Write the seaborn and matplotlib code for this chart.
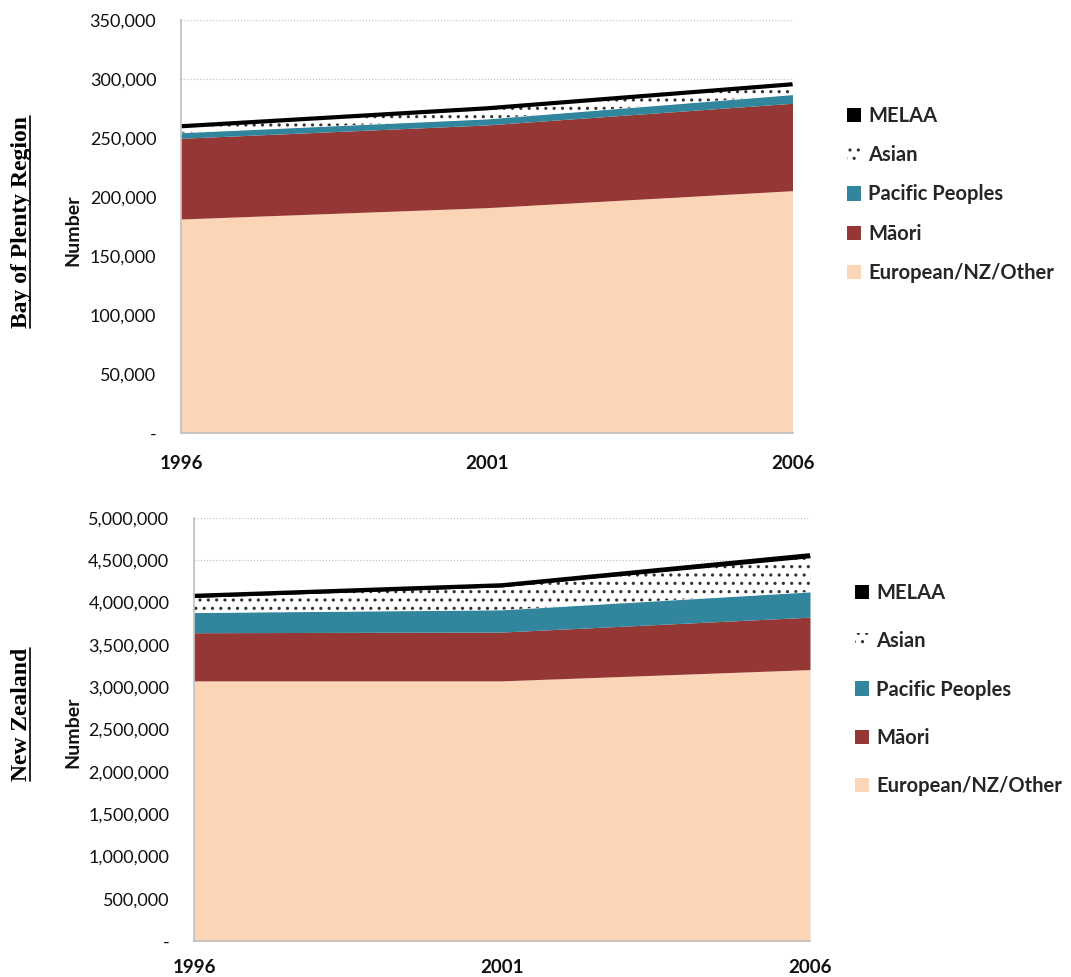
import numpy as np
import pandas as pd
import matplotlib
matplotlib.use("Agg")
import matplotlib.pyplot as plt
from matplotlib.patches import Patch
from matplotlib.lines import Line2D
from matplotlib.ticker import FuncFormatter, MultipleLocator
from matplotlib.font_manager import FontProperties
import seaborn as sns

# ---- data -------------------------------------------------------------
years = [1996, 2001, 2006]
groups = ["European/NZ/Other", "Māori", "Pacific Peoples", "Asian", "MELAA"]

bop_european = [181600, 191200, 205600]
bop_maori = [68400, 70100, 74100]
bop_pacific = [4700, 5100, 7300]
bop_asian = [5000, 8400, 8000]
bop_melaa = [500, 600, 800]

nz_european = [3075000, 3075000, 3208000]
nz_maori = [569000, 577000, 620000]
nz_pacific = [238000, 262000, 298000]
nz_asian = [178000, 271000, 404000]
nz_melaa = [20000, 20000, 30000]

region_titles = ["Bay of Plenty Region", "New Zealand"]


def long_table(series):
    rows = []
    for g, vals in zip(groups, series):
        for y, v in zip(years, vals):
            rows.append({"year": y, "group": g, "count": v})
    return pd.DataFrame(rows)


bop = long_table([bop_european, bop_maori, bop_pacific, bop_asian, bop_melaa])
nz = long_table([nz_european, nz_maori, nz_pacific, nz_asian, nz_melaa])

# ---- styling ----------------------------------------------------------
sns.set_theme(style="white")
plt.rcParams["font.family"] = ["Lato", "DejaVu Sans"]
plt.rcParams["hatch.linewidth"] = 1.1

styles = {
    "European/NZ/Other": dict(fc="#FBD5B5", ec="#FBD5B5", hatch=None),
    "Māori": dict(fc="#953735", ec="#953735", hatch=None),
    "Pacific Peoples": dict(fc="#31859C", ec="#31859C", hatch=None),
    "Asian": dict(fc="white", ec="#333333", hatch=".."),
    "MELAA": dict(fc="black", ec="black", hatch=None),
}

W, H = 1071, 977
fig = plt.figure(figsize=(W / 100, H / 100), dpi=100)


def fx(px):
    return px / W


def fy(py):
    return 1 - py / H


def axes_at(left, right, top, bottom):
    return fig.add_axes([fx(left), fy(bottom), fx(right) - fx(left), fy(top) - fy(bottom)])


ax_top = axes_at(181, 792.5, 20.3, 433.3)
ax_bot = axes_at(194, 810, 518, 941)


def fmt(v, _):
    return "-" if abs(v) < 1e-9 else f"{v:,.0f}"


def draw_panel(ax, df, ymax, ystep, xpad):
    wide = df.pivot(index="year", columns="group", values="count")[groups]
    cum = wide.cumsum(axis=1)
    base = np.zeros(len(wide))
    for g in groups:
        top = cum[g].to_numpy(dtype=float)
        st = styles[g]
        ax.fill_between(wide.index.to_numpy(), base, top, facecolor=st["fc"],
                        edgecolor=st["ec"], hatch=st["hatch"], linewidth=0,
                        zorder=1)
        base = top
    sns.lineplot(x=wide.index.to_numpy(), y=cum[groups[-1]].to_numpy(),
                 color="black", lw=3.0, ax=ax, zorder=3,
                 solid_capstyle="butt", solid_joinstyle="miter")
    ax.set_xlim(years[0], years[-1])
    ax.set_ylim(0, ymax)
    ax.set_xticks(years)
    ax.set_xticklabels([str(y) for y in years])
    ax.yaxis.set_major_locator(MultipleLocator(ystep))
    ax.yaxis.set_major_formatter(FuncFormatter(fmt))
    ax.set_xlabel("")
    ax.set_ylabel("")
    ax.set_axisbelow(True)
    ax.yaxis.grid(True, linestyle=(0, (1, 1.5)), color="#c4c4c4", lw=0.9)
    ax.xaxis.grid(False)
    for s in ("top", "right"):
        ax.spines[s].set_visible(False)
    for s in ("left", "bottom"):
        ax.spines[s].set_color("#bfbfbf")
        ax.spines[s].set_linewidth(1.2)
        ax.spines[s].set_zorder(4)
    ax.tick_params(axis="y", direction="out", length=4.3, width=1.0,
                   color="#bfbfbf", pad=13.5, labelsize=13, labelcolor="#111111")
    ax.tick_params(axis="x", direction="out", length=4.3, width=1.0,
                   color="#bfbfbf", pad=xpad, labelsize=13.5, labelcolor="#111111")
    for lab in ax.get_xticklabels():
        lab.set_fontweight("bold")
    ax.set_facecolor("white")


draw_panel(ax_top, bop, 350000, 50000, 11)
draw_panel(ax_bot, nz, 5000000, 500000, 8.5)

# legends
legend_font = FontProperties(family="Lato", weight="bold", size=14.5)
order = groups[::-1]
handles = [Patch(facecolor=styles[g]["fc"], edgecolor=styles[g]["ec"],
                 hatch=styles[g]["hatch"], linewidth=0) for g in order]
ax_top.legend(handles, order, loc="center left",
              bbox_to_anchor=(fx(847), fy(194.5)), bbox_transform=fig.transFigure,
              frameon=False, prop=legend_font, handlelength=0.7, handleheight=0.7,
              handletextpad=0.35, labelspacing=0.95, borderpad=0, borderaxespad=0)
ax_bot.legend(handles, order, loc="center left",
              bbox_to_anchor=(fx(855), fy(689.5)), bbox_transform=fig.transFigure,
              frameon=False, prop=legend_font, handlelength=0.7, handleheight=0.7,
              handletextpad=0.35, labelspacing=1.4, borderpad=0, borderaxespad=0)

# axis titles
for cy in (230, 732):
    fig.text(fx(72.5), fy(cy), "Number", rotation=90, ha="center", va="center",
             family="Lato", weight="bold", size=14, color="#111111")

side = []
for title, cy in zip(region_titles, (221.5, 714.5)):
    side.append(fig.text(fx(22), fy(cy), title, rotation=90, ha="center",
                         va="center", family="Liberation Serif", weight="bold",
                         size=17, color="black"))

# underline the rotated region titles
fig.canvas.draw()
renderer = fig.canvas.get_renderer()
for t in side:
    bb = t.get_window_extent(renderer)
    x = bb.x1 - 3
    fig.add_artist(Line2D([x / W, x / W], [bb.y0 / H, bb.y1 / H],
                          transform=fig.transFigure, color="black", lw=1.2))

fig.savefig("out.png", dpi=100)
